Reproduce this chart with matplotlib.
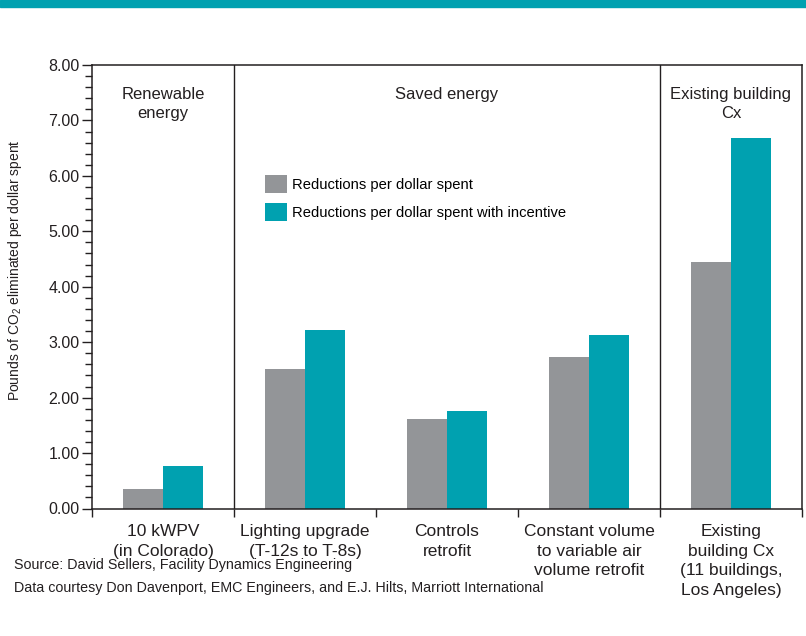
import matplotlib
matplotlib.use("Agg")
import matplotlib.pyplot as plt
from matplotlib.patches import Rectangle
import numpy as np

plt.rcParams['font.family'] = ['Liberation Sans', 'DejaVu Sans']
plt.rcParams['mathtext.fontset'] = 'custom'
plt.rcParams['mathtext.rm'] = 'Liberation Sans'

categories = ['10 kWPV\n(in Colorado)',
              'Lighting upgrade\n(T-12s to T-8s)',
              'Controls\nretrofit',
              'Constant volume\nto variable air\nvolume retrofit',
              'Existing\nbuilding Cx\n(11 buildings,\nLos Angeles)']
per_dollar = [0.35, 2.52, 1.61, 2.73, 4.45]
with_incentive = [0.77, 3.22, 1.76, 3.13, 6.68]
series_labels = ['Reductions per dollar spent',
                 'Reductions per dollar spent with incentive']
section_labels = ['Renewable\nenergy', 'Saved energy', 'Existing building\nCx']
section_centers = [0, 2, 4]
section_dividers = [0.5, 3.5]

gray = '#939598'
teal = '#00a1b0'
ink = '#231f20'

fig = plt.figure(figsize=(8.06, 6.36), dpi=100)
ax = fig.add_axes([92 / 806, 1 - 508.5 / 636, 710 / 806, 443.5 / 636])

# teal band along the top edge
fig.patches.append(Rectangle((0, 1 - 7 / 636), 1, 7 / 636, transform=fig.transFigure,
                             color=teal, zorder=0))

x = np.arange(len(categories))
w = 0.285
ax.bar(x - w / 2, per_dollar, w, color=gray, label=series_labels[0])
ax.bar(x + w / 2, with_incentive, w, color=teal, label=series_labels[1])

for d in section_dividers:
    ax.axvline(d, color=ink, lw=1)

for cx, lab in zip(section_centers, section_labels):
    ax.text(cx, 7.61, lab, ha='center', va='top', fontsize=12, color=ink,
            linespacing=1.4)

ax.set_xlim(-0.5, len(categories) - 0.5)
ax.set_ylim(0, 8)

ax.set_yticks(np.arange(0, 8.01, 1.0))
ax.set_yticks(np.arange(0, 8.01, 0.2), minor=True)
ax.set_yticklabels(['%.2f' % v for v in np.arange(0, 8.01, 1.0)], fontsize=11.5, color=ink)
ax.tick_params(axis='y', which='major', length=7, width=1, color=ink, pad=2)
ax.tick_params(axis='y', which='minor', length=5, width=1, color=ink)

ax.set_xticks(x)
ax.set_xticklabels(categories, fontsize=12.5, color=ink, linespacing=1.4)
ax.set_xticks(np.arange(-0.5, len(categories), 1.0), minor=True)
ax.tick_params(axis='x', which='major', length=0, pad=11)
ax.tick_params(axis='x', which='minor', length=6, width=1, color=ink)

for s in ax.spines.values():
    s.set_color(ink)
    s.set_linewidth(1.1)

ax.set_ylabel(r'Pounds of CO$_2$ eliminated per dollar spent', fontsize=10, color=ink)
ax.yaxis.set_label_coords(-0.096, 0.538)

ax.legend(loc='upper left', bbox_to_anchor=(265 / 806, 1 - 175 / 636),
          bbox_transform=fig.transFigure, frameon=False, fontsize=10.6,
          handlelength=1.5, handleheight=1.5, handletextpad=0.3,
          labelspacing=0.68, borderaxespad=0, borderpad=0)

fig.text(14 / 806, 1 - 565 / 636, 'Source: David Sellers, Facility Dynamics Engineering',
         fontsize=10.3, color=ink, va='center')
fig.text(14 / 806, 1 - 588 / 636,
         'Data courtesy Don Davenport, EMC Engineers, and E.J. Hilts, Marriott International',
         fontsize=10.3, color=ink, va='center')

fig.savefig('out.png', dpi=100)
